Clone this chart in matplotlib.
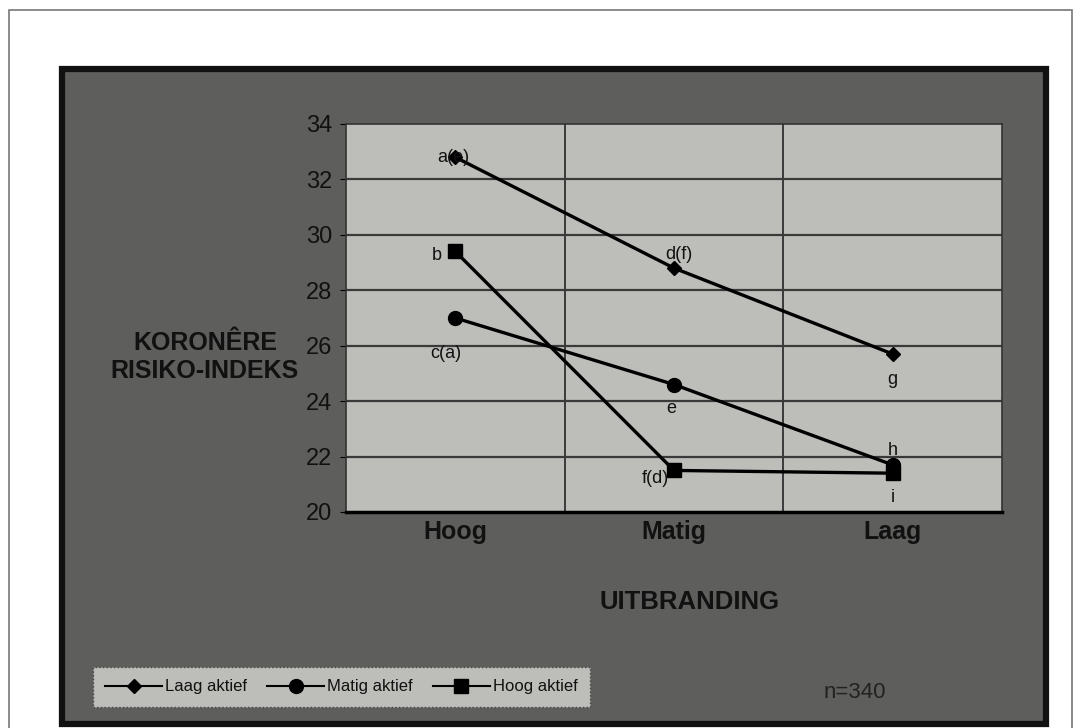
import matplotlib
matplotlib.use("Agg")
import matplotlib.pyplot as plt
from matplotlib.patches import Rectangle
from matplotlib.lines import Line2D

# uitbranding categories and mean coronary risk index per activity group
categories = ["Hoog", "Matig", "Laag"]
laag_aktief = [32.8, 28.8, 25.7]
matig_aktief = [27.0, 24.6, 21.7]
hoog_aktief = [29.4, 21.5, 21.4]

laag_labels = ["a(e)", "d(f)", "g"]
matig_labels = ["c(a)", "e", "h"]
hoog_labels = ["b", "f(d)", "i"]

yticks = [20, 22, 24, 26, 28, 30, 32, 34]

W, H = 1075, 728
plt.rcParams["font.family"] = ["Liberation Sans", "DejaVu Sans"]

fig = plt.figure(figsize=(W / 100, H / 100), dpi=100)
fig.patch.set_facecolor("white")


def px(x0, y0, x1, y1):
    # pixel box (top-left origin) -> figure fraction rect
    return (x0 / W, 1 - y1 / H, (x1 - x0) / W, (y1 - y0) / H)


# page frame and dark chart panel, kept behind the axes
fx, fy, fw, fh = px(9, 10, 1072, 740)
fig.patches.append(Rectangle((fx, fy), fw, fh, transform=fig.transFigure,
                             facecolor="white", edgecolor="#777777", lw=1.2,
                             zorder=-3))
dx, dy, dw, dh = px(62, 69, 1046, 724)
fig.patches.append(Rectangle((dx, dy), dw, dh, transform=fig.transFigure,
                             facecolor="#5e5e5c", edgecolor="#111111", lw=4.5,
                             zorder=-2))

ax = fig.add_axes(px(346, 124, 1002, 512))
ax.set_zorder(1)
ax.set_facecolor("#bdbdb9")
x = list(range(len(categories)))

ax.plot(x, laag_aktief, color="black", lw=2.4, marker="D", ms=7, zorder=3)
ax.plot(x, matig_aktief, color="black", lw=2.4, marker="o", ms=10, zorder=3)
ax.plot(x, hoog_aktief, color="black", lw=2.4, marker="s", ms=10, zorder=3)

label_offsets = {
    "laag": [(-2, 0), (5, 14), (0, -25)],
    "matig": [(-10, -36), (-3, -24), (0, 14)],
    "hoog": [(-19, -4), (-19, -8), (0, -24)],
}
for key, vals, labels in [("laag", laag_aktief, laag_labels),
                          ("matig", matig_aktief, matig_labels),
                          ("hoog", hoog_aktief, hoog_labels)]:
    for i, (v, lab) in enumerate(zip(vals, labels)):
        ax.annotate(lab, (i, v), xytext=label_offsets[key][i],
                    textcoords="offset pixels", ha="center", va="center",
                    fontsize=13, color="#111111", zorder=4)

ax.set_xlim(-0.5, 2.5)
ax.set_ylim(20, 34)
ax.set_yticks(yticks)
ax.set_yticklabels([str(t) for t in yticks], fontsize=17, color="#111111")
ax.set_xticks(x)
ax.set_xticklabels(categories, fontsize=18, fontweight="bold", color="#111111")
ax.tick_params(axis="x", length=0, pad=6)
ax.tick_params(axis="y", length=4, pad=6)

for t in yticks[1:-1]:
    ax.axhline(t, color="#3a3a3a", lw=1.6, zorder=1)
for b in [0.5, 1.5]:
    ax.axvline(b, color="#3a3a3a", lw=1.4, zorder=1)
for s in ["top", "right", "left"]:
    ax.spines[s].set_color("#333333")
    ax.spines[s].set_linewidth(1.2)
ax.spines["bottom"].set_color("black")
ax.spines["bottom"].set_linewidth(2.5)

fig.text(205 / W, 1 - 357 / H, "KORONÊRE\nRISIKO-INDEKS", ha="center",
         va="center", fontsize=18, fontweight="bold", color="#111111",
         linespacing=1.25)
fig.text(690 / W, 1 - 602 / H, "UITBRANDING", ha="center", va="center",
         fontsize=18.5, fontweight="bold", color="#111111")
fig.text(855 / W, 1 - 692 / H, "n=340", ha="center", va="center",
         fontsize=16, color="#222222")

handles = [
    Line2D([], [], color="black", lw=1.5, marker="D", ms=7),
    Line2D([], [], color="black", lw=1.5, marker="o", ms=10),
    Line2D([], [], color="black", lw=1.5, marker="s", ms=10),
]
leg = fig.legend(handles, ["Laag aktief", "Matig aktief", "Hoog aktief"],
                 ncol=3, loc="center left", bbox_to_anchor=(93 / W, 1 - 687 / H),
                 borderaxespad=0, fontsize=12, frameon=True, fancybox=False,
                 handlelength=3.4, handletextpad=0.2, columnspacing=1.2,
                 borderpad=0.75)
leg.set_zorder(5)
leg.get_frame().set_facecolor("#bdbdb9")
leg.get_frame().set_edgecolor("#444444")
leg.get_frame().set_linestyle(":")
leg.get_frame().set_alpha(1)
for t in leg.get_texts():
    t.set_color("#111111")

fig.savefig("out.png", dpi=100)
